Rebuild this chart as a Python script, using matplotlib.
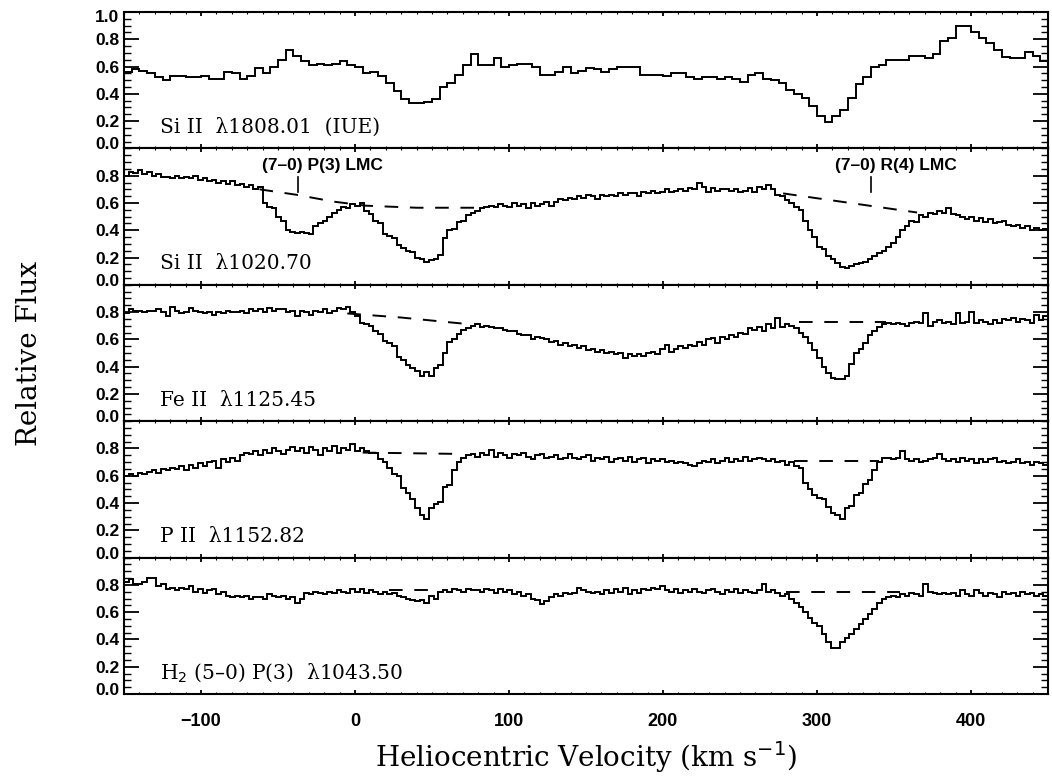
import numpy as np
import matplotlib
matplotlib.use('Agg')
import matplotlib.pyplot as plt
from matplotlib.ticker import MultipleLocator, FormatStrFormatter
import matplotlib.transforms as mtransforms

# ==========================================
# data: relative flux, binned in heliocentric velocity
# ==========================================
v_lo, v_hi = -150, 450
iue_bin = 5     # km/s, IUE spectrum
fuse_bin = 3    # km/s, FUSE spectra

si1808 = [0.56, 0.58, 0.57, 0.55, 0.52, 0.50, 0.53, 0.53, 0.52, 0.52,
          0.53, 0.51, 0.51, 0.56, 0.55, 0.51, 0.53, 0.59, 0.55, 0.60,
          0.65, 0.72, 0.68, 0.64, 0.61, 0.62, 0.61, 0.62, 0.64, 0.61,
          0.60, 0.55, 0.56, 0.53, 0.48, 0.42, 0.36, 0.33, 0.33, 0.34,
          0.36, 0.45, 0.48, 0.54, 0.61, 0.69, 0.61, 0.61, 0.66, 0.60,
          0.61, 0.62, 0.62, 0.60, 0.54, 0.54, 0.56, 0.60, 0.55, 0.57,
          0.59, 0.58, 0.56, 0.58, 0.60, 0.60, 0.60, 0.54, 0.54, 0.54,
          0.53, 0.55, 0.55, 0.52, 0.51, 0.52, 0.52, 0.51, 0.52, 0.51,
          0.49, 0.54, 0.55, 0.51, 0.50, 0.48, 0.43, 0.40, 0.37, 0.31,
          0.24, 0.19, 0.24, 0.28, 0.37, 0.47, 0.52, 0.60, 0.61, 0.65,
          0.65, 0.65, 0.68, 0.68, 0.66, 0.69, 0.79, 0.81, 0.90, 0.90,
          0.85, 0.81, 0.77, 0.72, 0.67, 0.66, 0.66, 0.71, 0.68, 0.64]

si1020 = [0.80, 0.83, 0.82, 0.84, 0.81, 0.83, 0.80, 0.81, 0.79, 0.79,
          0.78, 0.80, 0.78, 0.79, 0.78, 0.80, 0.77, 0.78, 0.76, 0.77,
          0.75, 0.76, 0.74, 0.76, 0.73, 0.74, 0.72, 0.73, 0.70, 0.72,
          0.60, 0.57, 0.56, 0.50, 0.47, 0.40, 0.39, 0.38, 0.39, 0.38,
          0.37, 0.43, 0.45, 0.47, 0.50, 0.53, 0.55, 0.57, 0.56, 0.59,
          0.58, 0.60, 0.54, 0.52, 0.47, 0.45, 0.37, 0.36, 0.34, 0.29,
          0.27, 0.25, 0.24, 0.20, 0.19, 0.17, 0.18, 0.19, 0.22, 0.34,
          0.40, 0.41, 0.46, 0.47, 0.51, 0.53, 0.54, 0.56, 0.57, 0.58,
          0.57, 0.59, 0.58, 0.57, 0.60, 0.58, 0.59, 0.56, 0.60, 0.58,
          0.59, 0.61, 0.58, 0.61, 0.63, 0.62, 0.64, 0.63, 0.65, 0.64,
          0.66, 0.65, 0.63, 0.66, 0.65, 0.66, 0.65, 0.67, 0.66, 0.67,
          0.67, 0.65, 0.68, 0.67, 0.69, 0.67, 0.68, 0.70, 0.68, 0.69,
          0.70, 0.69, 0.71, 0.70, 0.75, 0.72, 0.68, 0.71, 0.69, 0.70,
          0.70, 0.69, 0.70, 0.68, 0.69, 0.71, 0.68, 0.72, 0.70, 0.73,
          0.70, 0.66, 0.65, 0.62, 0.60, 0.57, 0.55, 0.47, 0.40, 0.35,
          0.28, 0.26, 0.21, 0.19, 0.16, 0.13, 0.12, 0.14, 0.15, 0.16,
          0.17, 0.19, 0.21, 0.23, 0.25, 0.28, 0.31, 0.35, 0.40, 0.43,
          0.47, 0.46, 0.51, 0.50, 0.53, 0.52, 0.54, 0.53, 0.56, 0.52,
          0.51, 0.50, 0.48, 0.50, 0.47, 0.49, 0.46, 0.48, 0.45, 0.46,
          0.47, 0.44, 0.43, 0.44, 0.42, 0.43, 0.40, 0.42, 0.40, 0.41]

fe1125 = [0.79, 0.82, 0.81, 0.81, 0.80, 0.81, 0.81, 0.82, 0.80, 0.77,
          0.84, 0.81, 0.79, 0.80, 0.83, 0.81, 0.80, 0.79, 0.80, 0.78,
          0.80, 0.79, 0.81, 0.80, 0.80, 0.81, 0.79, 0.82, 0.81, 0.82,
          0.80, 0.83, 0.81, 0.82, 0.82, 0.80, 0.81, 0.77, 0.81, 0.80,
          0.78, 0.81, 0.80, 0.82, 0.79, 0.81, 0.83, 0.82, 0.84, 0.80,
          0.77, 0.72, 0.71, 0.70, 0.66, 0.64, 0.59, 0.57, 0.55, 0.47,
          0.45, 0.41, 0.39, 0.37, 0.33, 0.36, 0.33, 0.39, 0.41, 0.50,
          0.58, 0.60, 0.64, 0.67, 0.68, 0.70, 0.71, 0.69, 0.70, 0.69,
          0.68, 0.68, 0.67, 0.66, 0.66, 0.64, 0.63, 0.63, 0.60, 0.62,
          0.61, 0.60, 0.58, 0.59, 0.56, 0.57, 0.55, 0.56, 0.54, 0.55,
          0.52, 0.53, 0.51, 0.52, 0.50, 0.51, 0.49, 0.50, 0.46, 0.49,
          0.48, 0.49, 0.48, 0.50, 0.51, 0.49, 0.53, 0.56, 0.51, 0.53,
          0.55, 0.54, 0.56, 0.55, 0.58, 0.56, 0.60, 0.61, 0.57, 0.62,
          0.60, 0.63, 0.62, 0.65, 0.64, 0.68, 0.67, 0.69, 0.66, 0.71,
          0.68, 0.76, 0.69, 0.71, 0.70, 0.68, 0.65, 0.62, 0.57, 0.52,
          0.46, 0.40, 0.35, 0.32, 0.31, 0.31, 0.33, 0.42, 0.50, 0.53,
          0.57, 0.63, 0.66, 0.69, 0.71, 0.72, 0.71, 0.72, 0.71, 0.70,
          0.72, 0.73, 0.72, 0.79, 0.70, 0.73, 0.74, 0.72, 0.73, 0.71,
          0.79, 0.72, 0.73, 0.80, 0.72, 0.74, 0.73, 0.71, 0.74, 0.72,
          0.75, 0.74, 0.76, 0.73, 0.75, 0.74, 0.72, 0.78, 0.74, 0.77]

p1152 = [0.60, 0.61, 0.60, 0.62, 0.61, 0.63, 0.64, 0.62, 0.65, 0.64,
         0.66, 0.65, 0.67, 0.64, 0.68, 0.66, 0.69, 0.67, 0.70, 0.71,
         0.66, 0.72, 0.70, 0.73, 0.71, 0.75, 0.77, 0.76, 0.78, 0.75,
         0.79, 0.77, 0.80, 0.78, 0.76, 0.79, 0.81, 0.78, 0.80, 0.77,
         0.81, 0.79, 0.75, 0.80, 0.78, 0.82, 0.77, 0.80, 0.79, 0.83,
         0.78, 0.80, 0.78, 0.77, 0.77, 0.72, 0.70, 0.66, 0.61, 0.60,
         0.51, 0.47, 0.43, 0.36, 0.31, 0.28, 0.36, 0.39, 0.41, 0.52,
         0.53, 0.64, 0.70, 0.73, 0.75, 0.76, 0.74, 0.77, 0.75, 0.79,
         0.74, 0.77, 0.75, 0.73, 0.76, 0.75, 0.77, 0.74, 0.72, 0.75,
         0.76, 0.73, 0.74, 0.75, 0.72, 0.73, 0.76, 0.73, 0.72, 0.74,
         0.75, 0.71, 0.73, 0.72, 0.74, 0.70, 0.72, 0.73, 0.71, 0.74,
         0.70, 0.72, 0.73, 0.69, 0.72, 0.71, 0.72, 0.70, 0.71, 0.69,
         0.70, 0.69, 0.68, 0.67, 0.69, 0.71, 0.70, 0.72, 0.69, 0.71,
         0.73, 0.70, 0.72, 0.71, 0.74, 0.71, 0.72, 0.73, 0.72, 0.71,
         0.72, 0.70, 0.71, 0.68, 0.70, 0.67, 0.66, 0.55, 0.50, 0.46,
         0.44, 0.43, 0.37, 0.33, 0.31, 0.28, 0.36, 0.38, 0.46, 0.47,
         0.54, 0.57, 0.64, 0.70, 0.73, 0.73, 0.72, 0.73, 0.78, 0.72,
         0.71, 0.72, 0.70, 0.71, 0.72, 0.73, 0.76, 0.72, 0.71, 0.72,
         0.70, 0.73, 0.71, 0.72, 0.69, 0.72, 0.70, 0.72, 0.73, 0.70,
         0.71, 0.69, 0.70, 0.72, 0.69, 0.70, 0.68, 0.70, 0.69, 0.68]

h2_1043 = [0.82, 0.84, 0.81, 0.81, 0.82, 0.85, 0.85, 0.79, 0.81, 0.77,
           0.78, 0.76, 0.78, 0.77, 0.79, 0.75, 0.77, 0.74, 0.76, 0.77,
           0.73, 0.75, 0.72, 0.71, 0.72, 0.71, 0.72, 0.70, 0.71, 0.71,
           0.70, 0.73, 0.72, 0.71, 0.72, 0.70, 0.71, 0.67, 0.70, 0.74,
           0.73, 0.75, 0.74, 0.73, 0.75, 0.74, 0.76, 0.75, 0.74, 0.77,
           0.75, 0.77, 0.74, 0.76, 0.75, 0.73, 0.75, 0.73, 0.74, 0.72,
           0.71, 0.70, 0.69, 0.68, 0.69, 0.67, 0.72, 0.70, 0.75, 0.76,
           0.75, 0.77, 0.76, 0.75, 0.77, 0.76, 0.76, 0.75, 0.77, 0.76,
           0.74, 0.77, 0.75, 0.76, 0.73, 0.75, 0.72, 0.73, 0.70, 0.69,
           0.66, 0.68, 0.71, 0.73, 0.72, 0.74, 0.73, 0.74, 0.78, 0.76,
           0.75, 0.74, 0.75, 0.73, 0.76, 0.74, 0.77, 0.75, 0.78, 0.73,
           0.76, 0.74, 0.77, 0.76, 0.78, 0.77, 0.79, 0.76, 0.75, 0.77,
           0.74, 0.76, 0.75, 0.77, 0.75, 0.74, 0.76, 0.77, 0.75, 0.73,
           0.76, 0.75, 0.77, 0.74, 0.76, 0.75, 0.74, 0.76, 0.81, 0.75,
           0.76, 0.74, 0.72, 0.73, 0.70, 0.67, 0.64, 0.60, 0.56, 0.52,
           0.50, 0.44, 0.38, 0.34, 0.34, 0.38, 0.41, 0.44, 0.48, 0.51,
           0.55, 0.59, 0.62, 0.67, 0.70, 0.71, 0.72, 0.71, 0.73, 0.72,
           0.74, 0.73, 0.72, 0.81, 0.75, 0.74, 0.73, 0.74, 0.73, 0.74,
           0.72, 0.76, 0.73, 0.72, 0.76, 0.74, 0.72, 0.74, 0.73, 0.71,
           0.75, 0.73, 0.74, 0.72, 0.75, 0.73, 0.74, 0.72, 0.73, 0.72]

# adopted continua (dashed), as (velocity knots, flux knots) per segment
si1020_cont = [([-62, -38, -14, 7, 40, 80], [0.70, 0.66, 0.61, 0.58, 0.565, 0.565]),
               ([278, 365], [0.67, 0.53])]
fe1125_cont = [([-5, 30, 75], [0.79, 0.76, 0.71]),
               ([288, 345], [0.73, 0.73])]
p1152_cont = [([5, 68], [0.77, 0.76]),
              ([285, 340], [0.71, 0.71])]
h2_cont = [([22, 50], [0.76, 0.76]),
           ([280, 354], [0.75, 0.75])]

labels = ['Si II  λ1808.01  (IUE)', 'Si II  λ1020.70', 'Fe II  λ1125.45',
          'P II  λ1152.82', 'H$_2$ (5\u20130) P(3)  λ1043.50']

# LMC H2 line markers in the Si II 1020 panel
lmc_names = ['(7\u20130) P(3) LMC', '(7\u20130) R(4) LMC']
lmc_vel = [-37, 335]

# ==========================================
# figure
# ==========================================
serif = ['DejaVu Serif']
tickfont = ['Liberation Sans', 'DejaVu Sans']

fig = plt.figure(figsize=(10.52, 7.77), dpi=100)
left, right = 124 / 1052, 1048 / 1052
top, bottom = 1 - 12 / 777, 1 - 694 / 777
h = (top - bottom) / 5

spectra = [si1808, si1020, fe1125, p1152, h2_1043]
bins = [iue_bin, fuse_bin, fuse_bin, fuse_bin, fuse_bin]
conts = [[], si1020_cont, fe1125_cont, p1152_cont, h2_cont]

axes = []
for k in range(5):
    ax = fig.add_axes([left, top - (k + 1) * h, right - left, h])
    axes.append(ax)
    edges = np.arange(v_lo, v_hi + bins[k], bins[k])
    ax.stairs(spectra[k], edges, color='black', lw=1.4, baseline=None)
    for cv, cf in conts[k]:
        ax.plot(cv, cf, color='black', lw=1.4, ls=(0, (7, 6)))

    ax.set_xlim(v_lo, v_hi)
    ax.set_ylim(0, 1)
    if k == 0:
        ax.set_yticks(np.arange(0, 1.01, 0.2))
    else:
        ax.set_yticks(np.arange(0, 0.81, 0.2))
    ax.yaxis.set_major_formatter(FormatStrFormatter('%.1f'))
    ax.yaxis.set_minor_locator(MultipleLocator(0.05))
    ax.xaxis.set_major_locator(MultipleLocator(100))
    ax.xaxis.set_minor_locator(MultipleLocator(10))
    ax.tick_params(axis='both', which='both', direction='in', top=True, right=True)
    ax.tick_params(axis='y', which='major', length=11, width=1.3)
    ax.tick_params(axis='y', which='minor', length=5, width=1.0)
    ax.tick_params(axis='x', which='major', length=3, width=1.3)
    ax.tick_params(axis='x', which='minor', length=1.5, width=0.8)
    ylabs = ax.get_yticklabels()
    for lab in ylabs:
        lab.set_family(tickfont)
        lab.set_fontweight('bold')
        lab.set_fontsize(12.5)
    # end labels sit a little inside the frame
    ylabs[0].set_transform(ylabs[0].get_transform() +
                           mtransforms.ScaledTranslation(0, 5 / 100, fig.dpi_scale_trans))
    if k == 0:
        ylabs[-1].set_transform(ylabs[-1].get_transform() +
                                mtransforms.ScaledTranslation(0, -4 / 100, fig.dpi_scale_trans))
    if k < 4:
        ax.tick_params(axis='x', labelbottom=False)
    for s in ax.spines.values():
        s.set_linewidth(1.5)

    ax.text(0.039, 0.155, labels[k], transform=ax.transAxes, va='center',
            ha='left', fontsize=14.5, family=serif)

# x tick labels on the bottom panel
for lab in axes[-1].get_xticklabels():
    lab.set_family(tickfont)
    lab.set_fontweight('bold')
    lab.set_fontsize(13)
axes[-1].tick_params(axis='x', pad=14)

# LMC markers
for name, vel in zip(lmc_names, lmc_vel):
    axes[1].plot([vel, vel], [0.68, 0.79], color='black', lw=1.2)
    axes[1].text(vel + 16, 0.875, name, ha='center', va='center', fontsize=12.5,
                 fontweight='bold', family=tickfont)

fig.text(0.028, (top + bottom) / 2, 'Relative Flux', rotation=90, ha='center',
         va='center', fontsize=20, family=serif)
fig.text((left + right) / 2, 1 - 757 / 777, 'Heliocentric Velocity (km s$^{-1}$)',
         ha='center', va='center', fontsize=20, family=serif)

fig.savefig('out.png', dpi=100)
